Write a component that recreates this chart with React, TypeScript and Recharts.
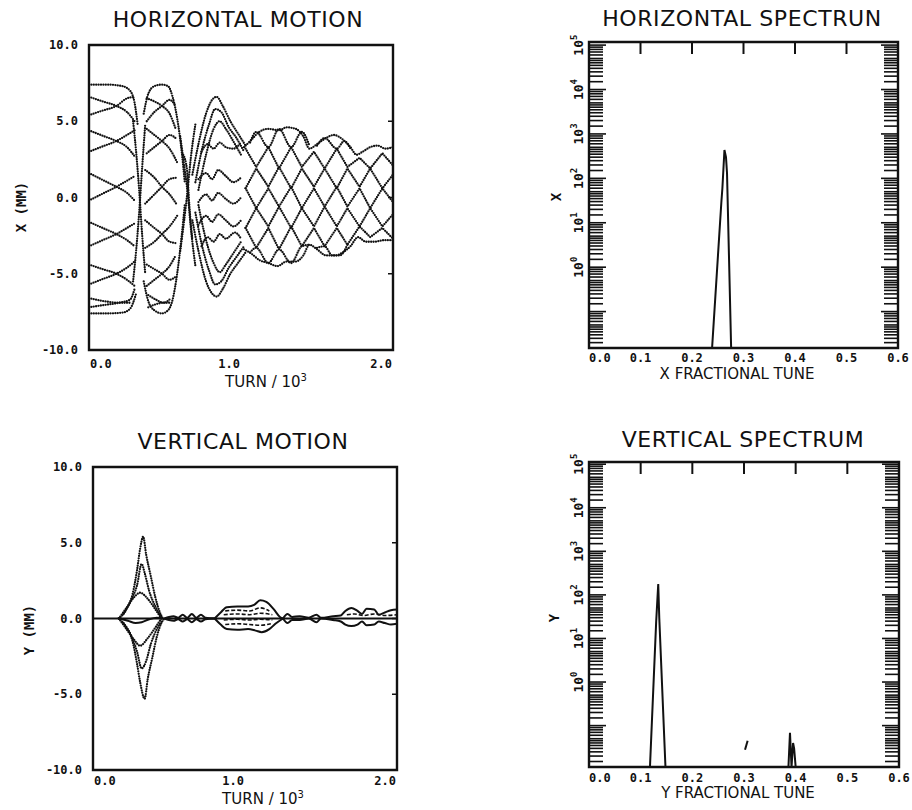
import React from 'react'
import { LineChart, Line, XAxis, YAxis, ReferenceArea } from 'recharts'

type Pt = [number, number]

// ---- horizontal motion: x = turn / 10^3, y = mm (strands) ----
const H_LOBE1: Pt[][] = [
  [[0, 7.4], [0.12, 7.4], [0.22, 7.3], [0.27, 7.0], [0.3, 6.2], [0.32, 4.8]],
  [[0, 6.6], [0.09, 6.3], [0.18, 6.0], [0.25, 5.6], [0.3, 5.0]],
  [[0, 5.4], [0.09, 5.7], [0.18, 6.0], [0.25, 6.5], [0.3, 6.6]],
  [[0, 4.4], [0.09, 4.05], [0.18, 3.7], [0.25, 3.3], [0.3, 2.7]],
  [[0, 3.0], [0.09, 3.35], [0.18, 3.7], [0.25, 4.1], [0.3, 4.4]],
  [[0, 1.6], [0.09, 1.15], [0.18, 0.7], [0.25, 0.3], [0.3, -0.2]],
  [[0, -0.2], [0.09, 0.25], [0.18, 0.7], [0.25, 1.1], [0.3, 1.4]],
  [[0, -1.6], [0.09, -2.0], [0.18, -2.4], [0.25, -2.8], [0.3, -3.2]],
  [[0, -3.2], [0.09, -2.8], [0.18, -2.4], [0.25, -2.0], [0.3, -1.7]],
  [[0, -4.4], [0.09, -4.7], [0.18, -5.0], [0.25, -5.4], [0.3, -5.8]],
  [[0, -5.7], [0.09, -5.35], [0.18, -5.0], [0.25, -4.6], [0.3, -4.2]],
  [[0, -6.6], [0.1, -6.8], [0.2, -6.9], [0.27, -6.9]],
  [[0, -7.2], [0.1, -7.05], [0.2, -6.9], [0.27, -6.7], [0.3, -6.0]],
  [[0, -7.6], [0.12, -7.6], [0.22, -7.55], [0.27, -7.3], [0.31, -6.3]],
  [[0.29, 5.0], [0.31, 3.0], [0.33, 0.5], [0.35, -2.5], [0.37, -5.0]],
  [[0.29, -5.5], [0.31, -3.5], [0.33, -1.0], [0.35, 2.0], [0.37, 4.8]],
]

const H_LOBE2: Pt[][] = [
  [[0.36, 5.5], [0.39, 6.8], [0.43, 7.3], [0.48, 7.4], [0.52, 7.3], [0.55, 6.6], [0.58, 5.2], [0.61, 3.0], [0.63, 1.0]],
  [[0.36, -5.5], [0.39, -6.8], [0.43, -7.4], [0.48, -7.6], [0.52, -7.4], [0.55, -6.7], [0.58, -5.0], [0.61, -2.5], [0.63, -0.5]],
  [[0.38, 6.5], [0.43, 6.3], [0.48, 6.0], [0.53, 5.5], [0.57, 4.5]],
  [[0.38, 5.0], [0.43, 5.6], [0.48, 6.0], [0.53, 6.4], [0.57, 6.0]],
  [[0.38, 4.5], [0.43, 4.1], [0.48, 3.7], [0.53, 3.2], [0.58, 2.3]],
  [[0.38, 2.9], [0.43, 3.3], [0.48, 3.7], [0.53, 4.1], [0.58, 3.8]],
  [[0.37, 1.8], [0.43, 1.3], [0.48, 0.7], [0.53, 0.2], [0.58, -0.5]],
  [[0.37, -0.4], [0.43, 0.2], [0.48, 0.7], [0.53, 1.2], [0.58, 1.3]],
  [[0.37, -1.5], [0.43, -2.0], [0.48, -2.4], [0.53, -2.9], [0.58, -3.0]],
  [[0.37, -3.3], [0.43, -2.9], [0.48, -2.4], [0.53, -1.9], [0.58, -1.2]],
  [[0.38, -4.4], [0.43, -4.7], [0.48, -5.0], [0.53, -5.4], [0.57, -5.2]],
  [[0.38, -5.8], [0.43, -5.4], [0.48, -5.0], [0.53, -4.5], [0.57, -3.8]],
  [[0.39, -6.4], [0.44, -6.7], [0.49, -6.9], [0.54, -6.6]],
  [[0.39, -7.2], [0.44, -7.0], [0.49, -6.9], [0.54, -6.9]],
  [[0.6, 4.0], [0.625, 2.2], [0.65, 0.2], [0.67, -2.0], [0.7, -4.5]],
  [[0.6, -3.5], [0.625, -1.6], [0.65, 0.6], [0.67, 2.6], [0.7, 4.8]],
  [[0.62, 2.8], [0.645, 1.8], [0.66, -0.5], [0.68, -2.8]],
]

const H_LOBE3: Pt[][] = [
  [[0.68, 1.5], [0.72, 3.5], [0.77, 5.5], [0.81, 6.4], [0.84, 6.6], [0.88, 6.0], [0.93, 5.0], [0.98, 4.2], [1.03, 3.4]],
  [[0.7, 1.0], [0.74, 3.0], [0.79, 4.8], [0.83, 5.8], [0.87, 5.6], [0.92, 4.6], [0.97, 3.9], [1.02, 3.0]],
  [[0.72, 0.5], [0.77, 2.8], [0.82, 4.5], [0.86, 5.0], [0.9, 4.5], [0.96, 3.5], [1.0, 2.8]],
  [[0.74, 3.0], [0.78, 3.5], [0.82, 3.2], [0.86, 3.6], [0.9, 3.3], [0.95, 3.2], [1.0, 3.6]],
  [[0.72, 1.2], [0.77, 1.6], [0.81, 1.2], [0.85, 1.8], [0.9, 1.4], [0.95, 1.0], [1.0, 1.3]],
  [[0.72, -0.3], [0.77, 0.2], [0.81, -0.2], [0.85, 0.3], [0.9, -0.1], [0.95, -0.4], [1.0, 0.0]],
  [[0.72, -1.8], [0.77, -1.2], [0.81, -1.6], [0.85, -1.1], [0.9, -1.5], [0.95, -1.9], [1.0, -1.5]],
  [[0.74, -3.2], [0.78, -2.6], [0.82, -2.9], [0.86, -2.4], [0.9, -2.7], [0.96, -2.3], [1.0, -2.7]],
  [[0.68, -1.5], [0.72, -3.5], [0.77, -5.5], [0.81, -6.3], [0.84, -6.5], [0.88, -6.0], [0.93, -5.0], [0.98, -4.3], [1.03, -3.6]],
  [[0.7, -1.0], [0.74, -3.0], [0.79, -4.8], [0.83, -5.7], [0.87, -5.5], [0.92, -4.6], [0.97, -3.9], [1.02, -3.2]],
  [[0.72, -0.5], [0.77, -2.8], [0.82, -4.3], [0.86, -4.9], [0.9, -4.4], [0.96, -3.5], [1.0, -2.9]],
]

// chain-link part after 1.0 x 10^3 turns
const H_LATTICE_T = [1.03, 1.1, 1.18, 1.25, 1.33, 1.4, 1.48, 1.55, 1.63, 1.7, 1.78, 1.85, 1.93, 2.0]
const H_LATTICE_A = [3.2, 2.0, 3.3, 1.9, 3.3, 2.0, 3.0, 1.9, 3.2, 2.0, 2.6, 1.9, 2.9, 2.1]
const H_LATTICE_B = [0.6, 1.9, 0.7, 2.0, 0.6, 1.9, 0.7, 1.9, 0.6, 1.9, 0.7, 1.9, 0.6, 1.5]
const H_LATTICE_C = [0.6, -0.7, 0.6, -0.6, 0.7, -0.7, 0.6, -0.6, 0.7, -0.6, 0.6, -0.7, 0.6, -0.3]
const H_LATTICE_D = [-2.0, -0.7, -1.9, -0.6, -2.0, -0.7, -1.9, -0.6, -1.9, -0.7, -1.9, -0.7, -1.9, -1.1]
const H_LATTICE_E = [-2.0, -3.3, -2.0, -3.4, -1.9, -3.2, -2.0, -3.2, -2.0, -3.1, -1.9, -2.6, -2.0, -2.7]

const H_EDGES: Pt[][] = [
  [[1.02, 3.3], [1.07, 3.8], [1.12, 4.3], [1.18, 4.5], [1.25, 4.4], [1.3, 4.6], [1.36, 4.5], [1.41, 4.0], [1.45, 3.2], [1.5, 3.5], [1.56, 3.9], [1.61, 4.1], [1.67, 3.8], [1.72, 3.3], [1.76, 2.8], [1.8, 3.0], [1.85, 3.3], [1.9, 3.4], [1.95, 3.2], [2.0, 3.3]],
  [[1.02, -3.4], [1.07, -3.7], [1.12, -4.1], [1.18, -4.3], [1.24, -4.5], [1.3, -4.2], [1.36, -4.2], [1.41, -3.8], [1.45, -3.1], [1.5, -3.4], [1.56, -3.8], [1.62, -3.8], [1.67, -3.6], [1.72, -3.2], [1.77, -2.6], [1.82, -2.9], [1.88, -2.9], [1.94, -2.8], [2.0, -2.8]],
  [[1.06, 3.6], [1.1, 4.3], [1.18, 3.3], [1.25, 4.5], [1.33, 3.3], [1.4, 4.3], [1.45, 3.4]],
  [[1.5, 3.4], [1.55, 3.9], [1.63, 3.2], [1.68, 3.7], [1.72, 3.2]],
  [[1.06, -3.6], [1.1, -3.3], [1.18, -4.3], [1.25, -3.4], [1.33, -4.3], [1.4, -3.2], [1.45, -3.1]],
  [[1.5, -3.3], [1.55, -3.2], [1.6, -3.8], [1.65, -3.8], [1.7, -3.1]],
]

// ---- vertical motion ----
const V_DOTS: Pt[][] = [
  [[0.17, 0], [0.22, 0.6], [0.26, 1.6], [0.29, 3.2], [0.31, 4.6], [0.33, 5.4], [0.35, 4.2], [0.38, 2.8], [0.41, 1.4], [0.44, 0.4], [0.46, 0]],
  [[0.17, 0], [0.22, -0.6], [0.26, -1.5], [0.29, -3.0], [0.31, -4.2], [0.34, -5.3], [0.36, -4.0], [0.39, -2.6], [0.42, -1.2], [0.45, -0.3], [0.47, 0]],
  [[0.2, 0.3], [0.25, 1.2], [0.29, 2.2], [0.32, 3.6], [0.34, 3.0], [0.37, 1.8], [0.41, 0.8], [0.45, 0.1]],
  [[0.2, -0.3], [0.25, -1.1], [0.29, -2.2], [0.32, -3.3], [0.35, -2.8], [0.38, -1.7], [0.42, -0.7], [0.46, -0.1]],
  [[0.17, 0], [0.22, 0.7], [0.27, 1.4], [0.31, 1.7], [0.36, 1.3], [0.41, 0.6], [0.45, 0]],
  [[0.17, 0], [0.22, -0.7], [0.27, -1.4], [0.31, -1.8], [0.36, -1.3], [0.41, -0.6], [0.45, 0]],
]

const V_SOLID: Pt[][] = [
  [[0, 0], [2.0, 0]],
  [[0.17, 0], [0.23, -0.15], [0.28, -0.3], [0.32, -0.25], [0.37, -0.05], [0.42, 0.05], [0.46, 0]],
  [[0.47, 0], [0.5, 0.1], [0.53, 0.15], [0.56, 0.05], [0.59, 0.25], [0.62, 0.05], [0.65, 0.3], [0.68, 0.05], [0.71, 0.25], [0.74, 0.05], [0.8, 0]],
  [[0.47, 0], [0.5, -0.1], [0.53, -0.15], [0.56, -0.05], [0.59, -0.2], [0.62, -0.05], [0.65, -0.25], [0.68, -0.05], [0.71, -0.2], [0.74, -0.05], [0.8, 0]],
  [[0.8, 0], [0.84, 0.4], [0.88, 0.75], [0.95, 0.8], [1.02, 0.8], [1.06, 0.9], [1.1, 1.2], [1.14, 1.1], [1.19, 0.6], [1.23, 0.1], [1.25, 0]],
  [[0.8, 0], [0.84, -0.4], [0.88, -0.7], [0.95, -0.75], [1.02, -0.7], [1.07, -0.8], [1.11, -0.9], [1.16, -0.7], [1.2, -0.35], [1.25, 0]],
  [[1.25, 0], [1.28, 0.3], [1.31, 0.1], [1.36, 0.15], [1.42, 0.05], [1.47, 0.25], [1.5, 0.05], [1.58, 0.15], [1.63, 0.2], [1.66, 0.5], [1.7, 0.7], [1.74, 0.5], [1.77, 0.3], [1.8, 0.65], [1.85, 0.6], [1.88, 0.25], [1.92, 0.4], [1.96, 0.55], [2.0, 0.6]],
  [[1.25, 0], [1.28, -0.3], [1.31, -0.1], [1.36, -0.1], [1.42, 0], [1.47, -0.25], [1.5, 0], [1.58, -0.1], [1.63, -0.2], [1.66, -0.4], [1.7, -0.5], [1.74, -0.4], [1.77, -0.2], [1.8, -0.45], [1.85, -0.4], [1.88, -0.2], [1.92, -0.3], [1.96, -0.4], [2.0, -0.35]],
]

const V_DASH: Pt[][] = [
  [[0.87, 0.5], [0.95, 0.55], [1.03, 0.5], [1.1, 0.7], [1.16, 0.5]],
  [[0.86, 0.25], [0.95, 0.3], [1.03, 0.25], [1.1, 0.35], [1.18, 0.25]],
  [[0.86, -0.1], [0.95, -0.05], [1.03, -0.1], [1.1, -0.05], [1.18, -0.1]],
  [[0.87, -0.4], [0.95, -0.35], [1.03, -0.4], [1.1, -0.45], [1.17, -0.35]],
  [[1.67, 0.25], [1.72, 0.3], [1.78, 0.2], [1.85, 0.3], [1.92, 0.2], [2.0, 0.25]],
]

const MOTION_X_TICKS = [0, 1, 2]
const MOTION_Y_TICKS = [-10, -5, 0, 5, 10]

// ---- spectra (log amplitude vs fractional tune) ----
const TUNE_TICKS = [0, 0.1, 0.2, 0.3, 0.4, 0.5, 0.6]
const H_FLOOR = 0.01514
const H_TOP = 117490
const H_SPEC_TUNE = [0, 0.239, 0.257, 0.259, 0.263, 0.266, 0.268, 0.276, 0.6]
const H_SPEC_AMP = [H_FLOOR, H_FLOOR, 29, 60, 436, 300, 130, H_FLOOR, H_FLOOR]

const V_FLOOR = 0.01122
const V_TOP = 112200
const V_SPEC_TUNE = [0, 0.118, 0.13, 0.134, 0.136, 0.148, 0.386, 0.389, 0.392, 0.395, 0.397, 0.4, 0.6]
const V_SPEC_AMP = [V_FLOOR, V_FLOOR, 24, 178, 30, V_FLOOR, V_FLOOR, 0.068, V_FLOOR, 0.04, 0.03, V_FLOOR, V_FLOOR]
const V_SPEC_DASH: Pt[] = [[0.302, 0.028], [0.307, 0.045]]

const DECADES = [-2, -1, 0, 1, 2, 3, 4, 5]
const MINORS = [1, 1.5, 2, 2.5, 3, 3.5, 4, 4.5, 5, 6, 7, 8, 9]
const LABELLED_DECADES = [0, 1, 2, 3, 4, 5]

const INK = '#111'
const TICK_FONT = { fontFamily: 'DejaVu Sans Mono', fontWeight: 700, fontSize: 12, fill: INK }

const rows = (s: Pt[]) => s.map(([x, y]) => ({ x, y }))
const zip = (xs: number[], ys: number[]): Pt[] => xs.map((x, i) => [x, ys[i]])
const logTicks = (lo: number, hi: number) =>
  DECADES.flatMap(k => MINORS.map(m => m * Math.pow(10, k))).filter(v => v >= lo && v <= hi * 1.0001)

const DOTTED = { stroke: INK, strokeWidth: 2.3, strokeDasharray: '0 2.4', strokeLinecap: 'round' as const }
const SOLID = { stroke: INK, strokeWidth: 2 }

function strands(list: Pt[][], id: string, st: object, type: any = 'monotone') {
  return list.map((s, i) => (
    <Line key={id + i} data={rows(s)} dataKey="y" type={type} dot={false} activeDot={false}
      isAnimationActive={false} {...st} />
  ))
}

function motionYTick(pw: number) {
  return (p: any) => {
    const v = p.payload.value
    return (
      <g>
        <text x={p.x - 11} y={p.y + 4} textAnchor="end" {...TICK_FONT}>{v.toFixed(1)}</text>
        {Math.abs(v) < 10 && <line x1={p.x + pw} x2={p.x + pw - 5} y1={p.y} y2={p.y} stroke={INK} strokeWidth={1.5} />}
      </g>
    )
  }
}

function motionXTick(dy: number) {
  return (p: any) => {
    const v = p.payload.value
    return (
      <text x={v === 0 ? p.x + 1 : p.x - 1} y={p.y + dy} textAnchor={v === 0 ? 'start' : 'end'} {...TICK_FONT}>
        {v.toFixed(1)}
      </text>
    )
  }
}

function tuneTick(ph: number, dy: number) {
  return (p: any) => {
    const v = p.payload.value
    const inner = v > 0.05 && v < 0.55
    return (
      <g>
        <text x={p.x} y={p.y + dy} textAnchor={v === 0 ? 'start' : 'middle'} {...TICK_FONT}>{v.toFixed(1)}</text>
        {inner && <line x1={p.x} x2={p.x} y1={p.y - ph} y2={p.y - ph + 12} stroke={INK} strokeWidth={2} />}
      </g>
    )
  }
}

function logTick(pw: number) {
  return (p: any) => {
    const v = p.payload.value
    const lg = Math.log10(v)
    const k = Math.round(lg)
    const decade = Math.abs(lg - k) < 1e-6
    const len = decade ? 17 : 14
    const cx = p.x - 10
    return (
      <g>
        <line x1={p.x} x2={p.x + len} y1={p.y} y2={p.y} stroke={INK} strokeWidth={1.6} />
        <line x1={p.x + pw} x2={p.x + pw - len} y1={p.y} y2={p.y} stroke={INK} strokeWidth={1.6} />
        {decade && LABELLED_DECADES.includes(k) && (
          <text x={cx} y={p.y} transform={`rotate(-90, ${cx}, ${p.y})`} textAnchor="middle"
            dominantBaseline="central" {...TICK_FONT} fontSize={13}>
            10<tspan dy={-5} fontSize={9}>{k}</tspan>
          </text>
        )}
      </g>
    )
  }
}

function MotionChart({ margin, labelDy, children }: { margin: any; labelDy: number; children: React.ReactNode }) {
  const pw = 456 - margin.left - 60 - margin.right
  return (
    <LineChart width={456} height={405} margin={margin}>
      <XAxis dataKey="x" type="number" domain={[0, 2]} ticks={MOTION_X_TICKS} interval={0} allowDataOverflow
        height={30} axisLine={false} tickLine={false} tickSize={0} tickMargin={0} tick={motionXTick(labelDy)} />
      <YAxis type="number" domain={[-10, 10]} ticks={MOTION_Y_TICKS} interval={0} allowDataOverflow
        width={60} axisLine={false} tickLine={false} tickSize={0} tickMargin={0} tick={motionYTick(pw)} />
      {children}
      <ReferenceArea x1={0} x2={2} y1={-10} y2={10} fill="none" stroke={INK} strokeWidth={2.4} ifOverflow="visible" />
    </LineChart>
  )
}

function SpectrumChart({ margin, lo, hi, dy, children }: { margin: any; lo: number; hi: number; dy: number; children: React.ReactNode }) {
  const pw = 456 - margin.left - 60 - margin.right
  const ph = 405 - margin.top - margin.bottom - 30
  return (
    <LineChart width={456} height={405} margin={margin}>
      <XAxis dataKey="x" type="number" domain={[0, 0.6]} ticks={TUNE_TICKS} interval={0} allowDataOverflow
        height={30} axisLine={false} tickLine={false} tickSize={0} tickMargin={0} tick={tuneTick(ph, dy)} />
      <YAxis type="number" scale="log" domain={[lo, hi]} ticks={logTicks(lo, hi)} interval={0} allowDataOverflow
        width={60} axisLine={false} tickLine={false} tickSize={0} tickMargin={0} tick={logTick(pw)} />
      {children}
      <ReferenceArea x1={0} x2={0.6} y1={lo} y2={hi} fill="none" stroke={INK} strokeWidth={2.4} ifOverflow="visible" />
    </LineChart>
  )
}

const abs = (left: number, top: number): React.CSSProperties => ({ position: 'absolute', left, top })

function Title({ cx, top, text }: { cx: number; top: number; text: string }) {
  return (
    <div style={{ ...abs(cx - 200, top), width: 400, textAlign: 'center', fontFamily: 'DejaVu Sans',
      fontSize: 22, lineHeight: '22px', letterSpacing: 0.6, color: INK, whiteSpace: 'nowrap' }}>{text}</div>
  )
}

function AxisTitle({ cx, top, children }: { cx: number; top: number; children: React.ReactNode }) {
  return (
    <div style={{ ...abs(cx - 150, top), width: 300, textAlign: 'center', fontFamily: 'DejaVu Sans',
      fontSize: 15, lineHeight: '15px', color: INK, whiteSpace: 'nowrap' }}>{children}</div>
  )
}

function SideTitle({ cx, cy, text }: { cx: number; cy: number; text: string }) {
  return (
    <div style={{ ...abs(cx, cy), transform: 'translate(-50%, -50%) rotate(-90deg)', fontFamily: 'DejaVu Sans Mono',
      fontWeight: 700, fontSize: 14, lineHeight: '14px', color: INK, whiteSpace: 'nowrap' }}>{text}</div>
  )
}

const TURN_LABEL = <>TURN / 10<span style={{ fontSize: 10, position: 'relative', top: -6 }}>3</span></>

export default function App() {
  const lattice = [H_LATTICE_A, H_LATTICE_B, H_LATTICE_C, H_LATTICE_D, H_LATTICE_E].map(ys => zip(H_LATTICE_T, ys))
  return (
    <div style={{ position: 'absolute', left: 0, top: 0, width: 912, height: 810, background: '#fff', overflow: 'hidden' }}>
      <div style={abs(0, 0)}>
        <MotionChart margin={{ top: 45, right: 63, bottom: 25, left: 29 }} labelDy={18}>
          {strands(H_LOBE1, 'a', DOTTED)}
          {strands(H_LOBE2, 'b', DOTTED)}
          {strands(H_LOBE3, 'c', DOTTED)}
          {strands(lattice, 'd', DOTTED, 'linear')}
          {strands(H_EDGES, 'e', DOTTED)}
        </MotionChart>
      </div>
      <div style={abs(456, 0)}>
        <SpectrumChart margin={{ top: 42, right: 14, bottom: 27, left: 73 }} lo={H_FLOOR} hi={H_TOP} dy={14}>
          {strands([zip(H_SPEC_TUNE, H_SPEC_AMP)], 's', SOLID, 'linear')}
        </SpectrumChart>
      </div>
      <div style={abs(0, 405)}>
        <MotionChart margin={{ top: 62, right: 59, bottom: 10, left: 33 }} labelDy={15}>
          {strands(V_DOTS, 'f', DOTTED)}
          {strands(V_SOLID, 'g', SOLID)}
          {strands(V_DASH, 'h', { stroke: INK, strokeWidth: 1.6, strokeDasharray: '4 2' })}
        </MotionChart>
      </div>
      <div style={abs(456, 405)}>
        <SpectrumChart margin={{ top: 57, right: 13, bottom: 13, left: 73 }} lo={V_FLOOR} hi={V_TOP} dy={15}>
          {strands([zip(V_SPEC_TUNE, V_SPEC_AMP)], 't', SOLID, 'linear')}
          {strands([V_SPEC_DASH], 'u', SOLID, 'linear')}
        </SpectrumChart>
      </div>

      <Title cx={238} top={9} text="HORIZONTAL MOTION" />
      <Title cx={742} top={8} text="HORIZONTAL SPECTRUN" />
      <Title cx={243} top={431} text="VERTICAL MOTION" />
      <Title cx={743} top={429} text="VERTICAL SPECTRUM" />

      <AxisTitle cx={266} top={375}>{TURN_LABEL}</AxisTitle>
      <AxisTitle cx={263} top={792}>{TURN_LABEL}</AxisTitle>
      <AxisTitle cx={737} top={367}>X FRACTIONAL TUNE</AxisTitle>
      <AxisTitle cx={738} top={786}>Y FRACTIONAL TUNE</AxisTitle>

      <SideTitle cx={21} cy={207} text="X (MM)" />
      <SideTitle cx={29} cy={630} text="Y (MM)" />
      <SideTitle cx={556} cy={197} text="X" />
      <SideTitle cx={554} cy={618} text="Y" />
    </div>
  )
}
